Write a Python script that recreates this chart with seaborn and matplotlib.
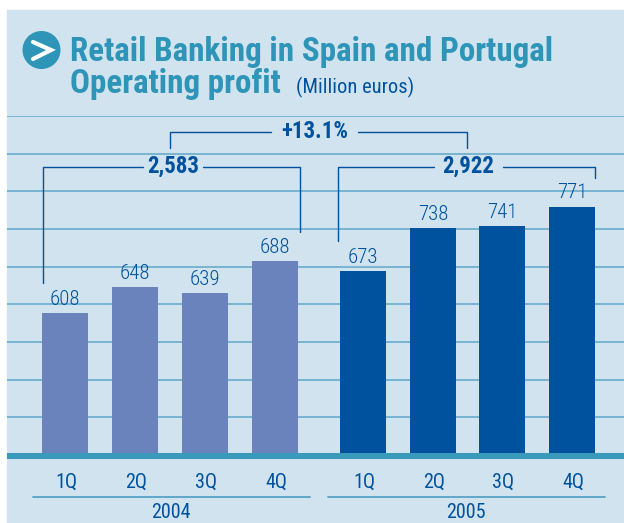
import pandas as pd
import matplotlib
matplotlib.use("Agg")
import matplotlib.pyplot as plt
from matplotlib.patches import Circle, Rectangle
import seaborn as sns

# ------------------------------
# Data
# ------------------------------
years = ["2004", "2004", "2004", "2004", "2005", "2005", "2005", "2005"]
quarters = ["1Q", "2Q", "3Q", "4Q", "1Q", "2Q", "3Q", "4Q"]
profit = [608, 648, 639, 688, 673, 738, 741, 771]
year_totals = ["2,583", "2,922"]
growth = "+13.1%"

# ------------------------------
# Colours / layout (pixels of the 624x523 image)
# ------------------------------
W, H = 624, 523
panel = "#d0e3ee"
teal = "#2f95b8"
navy = "#00529f"
grid = "#5fa8c8"

sns.set_theme(style="white")
plt.rcParams["font.family"] = ["Roboto Condensed", "DejaVu Sans"]

df = pd.DataFrame({"year": years, "quarter": quarters, "profit": profit})
# bar centres in px: the groups are not evenly spaced
df["xpos"] = [65, 135, 205, 275, 363, 433, 502, 572]

fig = plt.figure(figsize=(W / 100, H / 100), dpi=100, facecolor="white")

# main axes: px on x, profit on y (truncated axis, baseline at about 393)
left, right, top, base = 7, 624, 116, 455
ax = fig.add_axes([left / W, 1 - base / H, (right - left) / W, (base - top) / H])
fig.patches.append(Rectangle((left / W, 0), (W - left) / W, 1 - 10 / H,
                             transform=fig.transFigure, color=panel, zorder=-5))
ax.patch.set_alpha(0)

# native_scale width is relative to the smallest spacing (69 px)
sns.barplot(data=df, x="xpos", y="profit", hue="year", native_scale=True,
            palette={"2004": "#6b83bd", "2005": navy}, width=46 / 69, dodge=False,
            legend=False, saturation=1, linewidth=0, ax=ax)

px_per_unit = 0.656
y0 = 608 - 142 / px_per_unit
step = 37.75 / px_per_unit
ax.set_xlim(left, right)
ax.set_ylim(y0, y0 + (base - top) / px_per_unit)
ax.set_yticks([y0 + step * i for i in range(1, 10)])
ax.set_xticks([])
ax.set_xlabel("")
ax.set_ylabel("")
ax.tick_params(left=False, labelleft=False)
ax.grid(axis="y", color=grid, lw=1.1)
ax.set_axisbelow(True)
sns.despine(ax=ax, left=True, bottom=True, top=True, right=True)

for cont in ax.containers:
    ax.bar_label(cont, fmt="%d", padding=3, color=navy, fontsize=15, fontweight=300)

# overlay in image pixels for title, brackets and labels
ov = fig.add_axes([0, 0, 1, 1])
ov.set_xlim(0, W)
ov.set_ylim(H, 0)
ov.axis("off")

ov.add_patch(Rectangle((left, 453), W - left, 6, color="#3a9abb", lw=0))

# title
ov.add_patch(Circle((41.5, 50), 19, color=teal, lw=0))
ov.plot([33, 51, 33], [42, 50, 59], color="white", lw=3, solid_joinstyle="miter")
ov.text(70, 52, "Retail Banking in Spain and Portugal", color=teal, fontsize=23.9,
        fontweight="bold", va="center", ha="left")
ov.text(70, 84, "Operating profit", color=teal, fontsize=23.9,
        fontweight="bold", va="center", ha="left")
ov.text(296, 87, "(Million euros)", color=navy, fontsize=14.8, va="center", ha="left")


def bracket(x0, x1, y, y_left, y_right, gap0, gap1, label, size):
    ov.plot([x0, x0, gap0], [y_left, y, y], color=navy, lw=1)
    ov.plot([gap1, x1, x1], [y, y, y_right], color=navy, lw=1)
    ov.text((gap0 + gap1) / 2, y - 1, label, color=navy, fontsize=size,
            fontweight="bold", ha="center", va="center")


bracket(170, 467, 132, 148, 148, 271, 358, growth, 16.5)
bracket(42.5, 299.5, 167, 283, 232, 143, 203, year_totals[0], 16.5)
bracket(338, 595, 167, 241, 178, 434, 503, year_totals[1], 16.5)

# category labels
for x, q in zip(df["xpos"], quarters):
    ov.text(x + 1, 482, q, color=navy, fontsize=14.5, ha="center", va="center")
ov.plot([33, 310], [497, 497], color=grid, lw=1.4)
ov.plot([328, 605], [497, 497], color=grid, lw=1.4)
ov.text(171, 513, "2004", color=navy, fontsize=14.5, ha="center", va="center")
ov.text(466, 513, "2005", color=navy, fontsize=14.5, ha="center", va="center")

fig.savefig("out.png", dpi=100, facecolor="white")
